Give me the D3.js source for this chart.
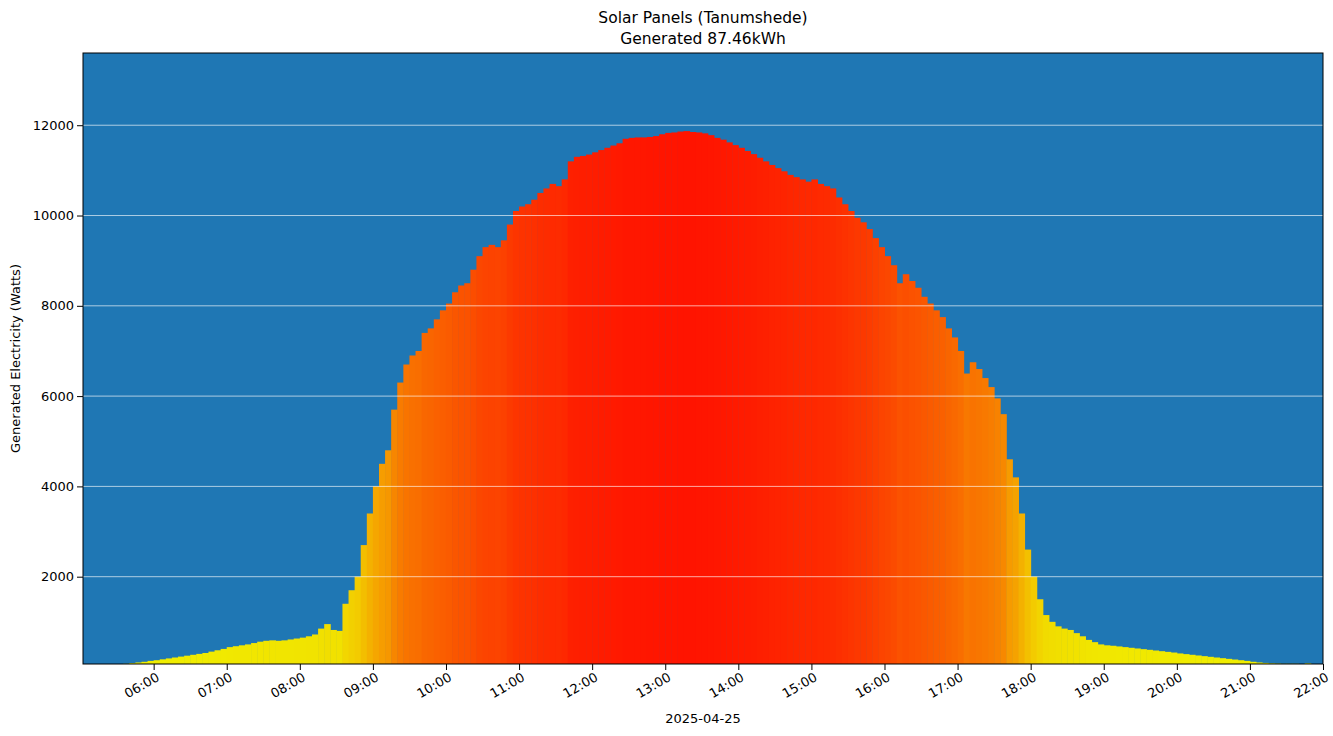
<!DOCTYPE html>
<html><head><meta charset="utf-8">
<script src="https://cdn.jsdelivr.net/npm/d3@7"></script>
<style>body{margin:0;background:#fff}text{font-family:"DejaVu Sans",sans-serif}</style>
</head><body><svg id="chart" width="1333" height="736"></svg>
<script>
// 5-minute readings starting 05:30
const startTime = "2025-04-25 05:30";
const stepMinutes = 5;
const watts = [
  60,70,85,100,115,135,150,170,190,210,230,250,270,290,310,340,370,400,
  440,460,480,500,530,560,580,590,580,590,610,630,
  650,680,720,850,950,820,800,1400,1700,2000,2700,3400,
  4000,4500,4800,5700,6300,6700,6900,7000,7400,7500,7700,7900,
  8050,8300,8450,8500,8800,9100,9300,9350,9300,9450,9800,10100,
  10200,10250,10350,10500,10600,10700,10650,10800,11200,11300,11320,11350,
  11400,11450,11500,11550,11600,11700,11720,11730,11730,11740,11760,11800,
  11830,11840,11860,11870,11850,11840,11820,11780,11720,11680,11620,11560,
  11500,11430,11360,11280,11200,11120,11050,10980,10900,10850,10800,10750,
  10800,10700,10650,10600,10400,10250,10100,9950,9850,9700,9500,9300,
  9100,8900,8500,8700,8550,8400,8200,8050,7900,7750,7500,7300,
  7000,6500,6750,6600,6400,6200,5950,5600,4600,4200,3400,2600,
  2000,1500,1150,1000,900,850,820,750,680,600,550,500,
  480,470,455,440,425,410,395,380,365,350,335,320,
  300,285,270,255,240,225,210,195,180,165,150,135,
  115,100,90,80,75,70,70,70,null,80
];
const yTicks = [2000,4000,6000,8000,10000,12000];
const title = ["Solar Panels (Tanumshede)", "Generated 87.46kWh"];

const parse = d3.timeParse("%Y-%m-%d %H:%M");
const t0 = parse(startTime);
const data = watts.map((v,i) => ({t: d3.timeMinute.offset(t0, i*stepMinutes), v}))
  .filter(d => d.v != null);

const svg = d3.select("#chart");
const m = {l:83, r:10, t:53, b:72};
const W = 1333 - m.l - m.r, H = 736 - m.t - m.b;

const x = d3.scaleTime()
  .domain([parse("2025-04-25 05:02"), parse("2025-04-25 22:00")])
  .range([0, W]);
const y = d3.scaleLinear().domain([66, 13600]).range([H, 0]);
const maxV = d3.max(data, d => d.v);
const color = v => d3.interpolateRgb("#f0f000", "#ff1400")(v / maxV);

const g = svg.append("g").attr("transform", `translate(${m.l},${m.t})`);
g.append("rect").attr("width", W).attr("height", H).attr("fill", "#1f77b4");

const bw = x(d3.timeMinute.offset(t0, stepMinutes)) - x(t0);
g.append("g").selectAll("rect").data(data).join("rect")
  .attr("x", d => x(d.t))
  .attr("width", bw + 0.5)
  .attr("y", d => y(Math.max(d.v, 66)))
  .attr("height", d => H - y(Math.max(d.v, 66)))
  .attr("fill", d => color(d.v));

g.append("g").selectAll("line").data(yTicks).join("line")
  .attr("x1", 0).attr("x2", W)
  .attr("y1", d => y(d)).attr("y2", d => y(d))
  .attr("stroke", "#fff").attr("stroke-opacity", 0.8).attr("stroke-width", 0.8);

g.append("rect").attr("width", W).attr("height", H)
  .attr("fill", "none").attr("stroke", "#000").attr("stroke-width", 1);

const xa = g.append("g").attr("transform", `translate(0,${H})`)
  .call(d3.axisBottom(x).ticks(d3.timeHour.every(1)).tickFormat(d3.timeFormat("%H:%M")).tickSizeOuter(0));
xa.selectAll("text").attr("font-size", 13).attr("text-anchor", "end")
  .attr("dx", "-0.2em").attr("dy", "0.6em").attr("transform", "rotate(-30)");
const ya = g.append("g")
  .call(d3.axisLeft(y).tickValues(yTicks).tickFormat(d3.format("d")).tickSizeOuter(0));
ya.selectAll("text").attr("font-size", 13);
g.selectAll(".domain").remove();

svg.append("text").attr("x", m.l + W/2).attr("y", 723).attr("text-anchor", "middle")
  .attr("font-size", 13).text("2025-04-25");
svg.append("text").attr("transform", `translate(20,${m.t + H/2}) rotate(-90)`)
  .attr("text-anchor", "middle").attr("font-size", 13).text("Generated Electricity (Watts)");
svg.selectAll(".title").data(title).join("text")
  .attr("x", m.l + W/2).attr("y", (d,i) => 23 + i*21)
  .attr("text-anchor", "middle").attr("font-size", 15.5).text(d => d);
</script></body></html>
